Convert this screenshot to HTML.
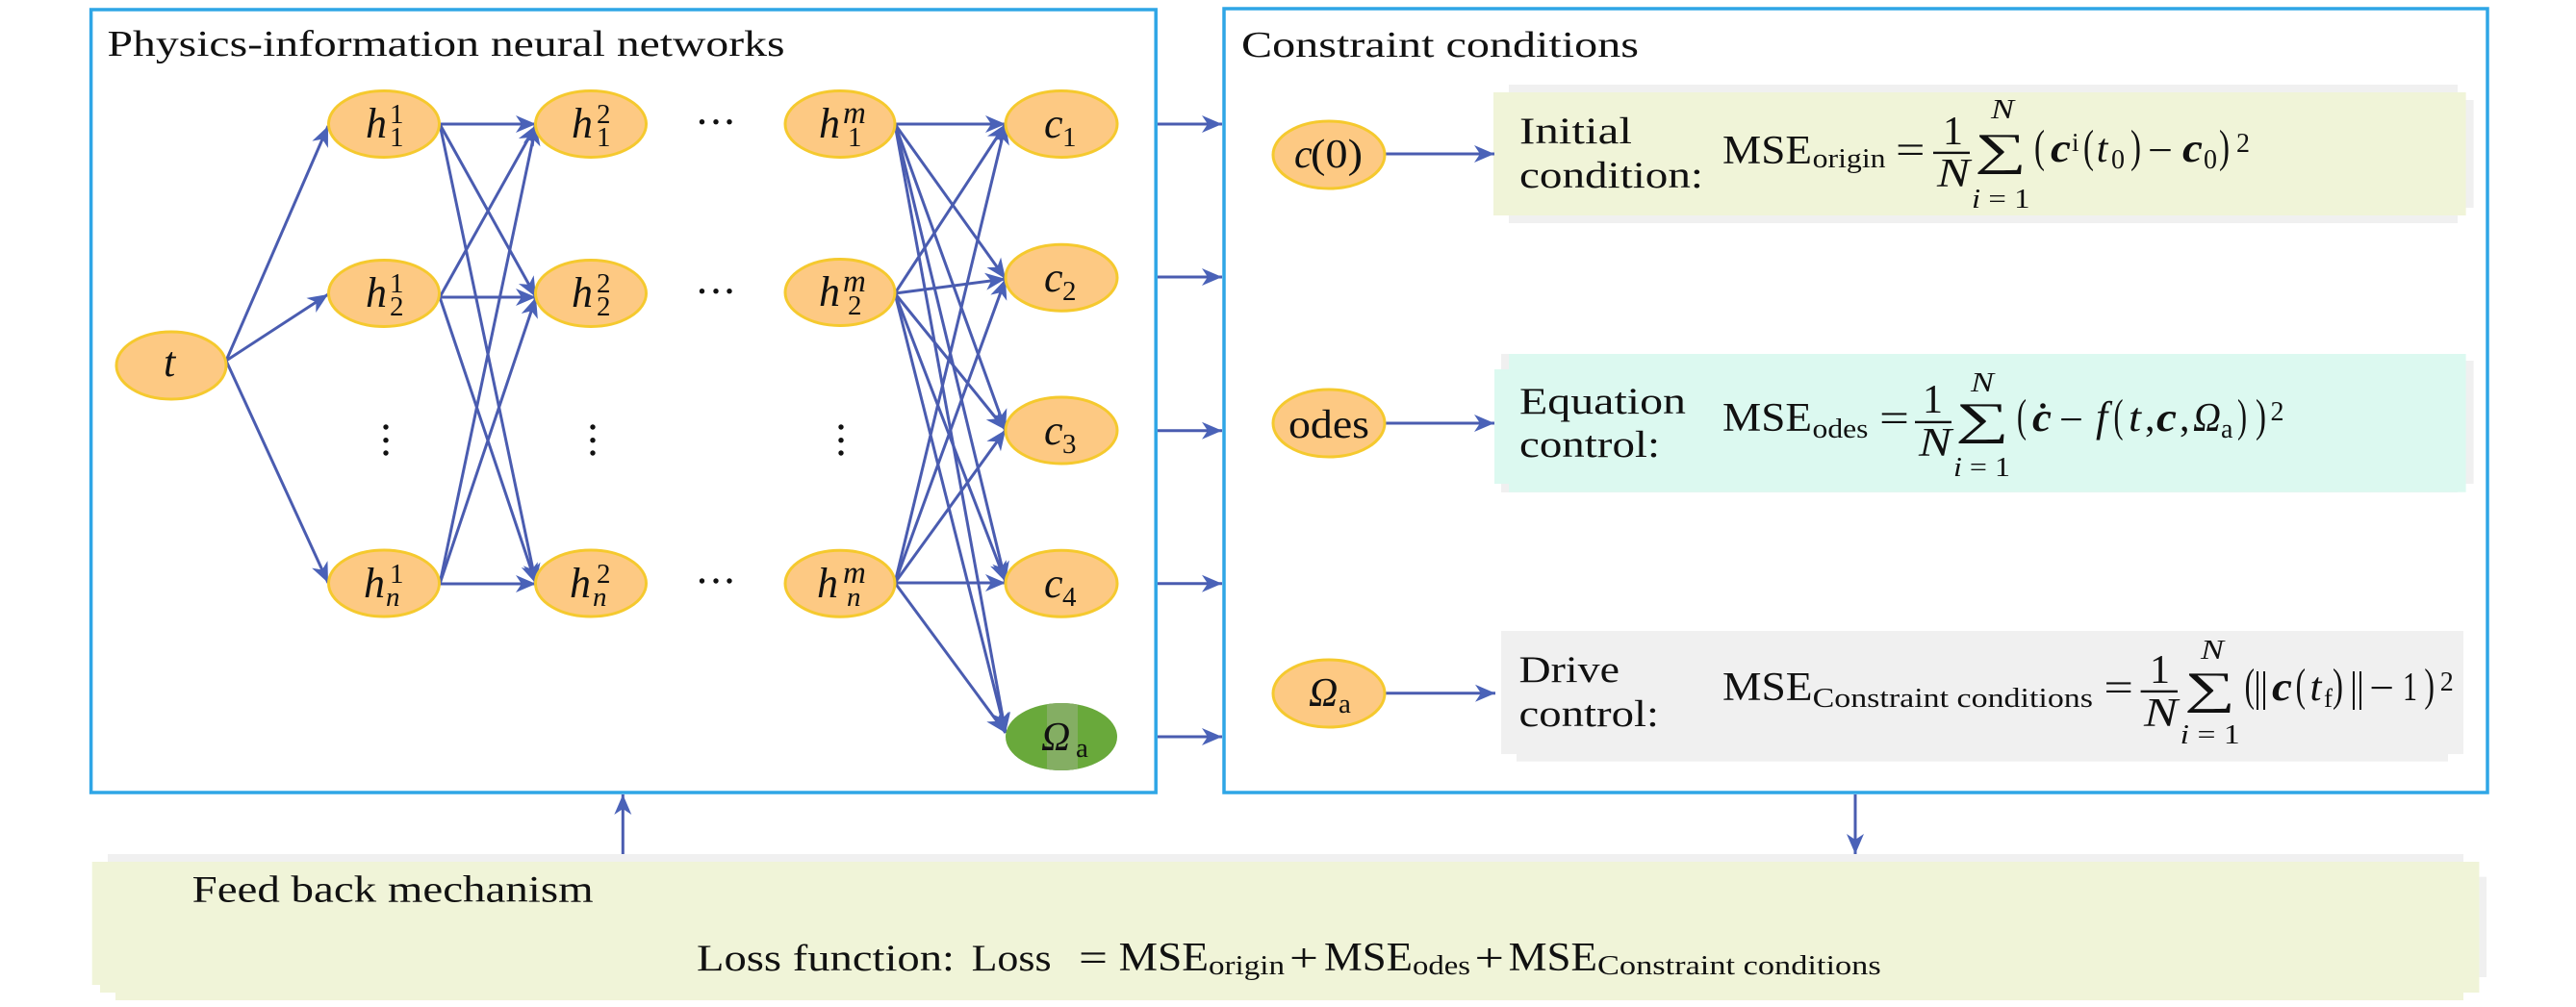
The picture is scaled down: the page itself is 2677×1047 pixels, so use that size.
<!DOCTYPE html>
<html>
<head>
<meta charset="utf-8">
<style>
html,body{margin:0;padding:0;background:#fff;}
svg{display:block;}
text{font-family:"Liberation Serif",serif;fill:#111;}
.i{font-style:italic;}
.b{font-style:italic;font-weight:bold;}
</style>
</head>
<body>
<svg width="2677" height="1047" viewBox="0 0 2677 1047" xmlns="http://www.w3.org/2000/svg">
<defs>
<marker id="a" markerUnits="userSpaceOnUse" markerWidth="26" markerHeight="24" refX="24" refY="12" orient="auto">
<path d="M3,3 L24,12 L3,21 L9,12 Z" fill="#4a62b8"/>
</marker>
</defs>
<rect width="2677" height="1047" fill="#fff"/>

<!-- panel backgrounds -->
<g fill="#f0f0f0">
<rect x="1568" y="88" width="986" height="144"/>
<rect x="2560" y="104" width="10.6" height="112"/>
<rect x="1560" y="368" width="994" height="144"/>
<rect x="2560" y="375" width="10.6" height="128"/>
<rect x="1560" y="656" width="1000" height="128"/>
<rect x="1576" y="660" width="968" height="131.7"/>
<rect x="112" y="888" width="2448" height="10"/>
<rect x="2570" y="911.7" width="14" height="104.3"/>
</g>
<rect x="1552" y="96" width="1010.6" height="128" fill="#f0f4d8"/>
<g fill="#dcf9f0">
<rect x="1568" y="368" width="994.6" height="143.7"/>
<rect x="1553" y="384" width="20" height="119"/>
</g>
<path d="M95.7,896 H2576.4 V1032 H2560 V1040 H120 V1032 H104 V1024 H95.7 Z" fill="#f0f4d8"/>

<!-- frames -->
<rect x="94.6" y="10" width="1106.6" height="814" fill="none" stroke="#2fa6e6" stroke-width="3.5"/>
<rect x="1272" y="9" width="1313" height="815" fill="none" stroke="#2fa6e6" stroke-width="3.5"/>

<!-- connectors -->
<g stroke="#4a5cb0" stroke-width="3" fill="none" marker-end="url(#a)">
<line x1="235" y1="375" x2="341" y2="131"/>
<line x1="235" y1="375" x2="341" y2="306"/>
<line x1="235" y1="375" x2="341" y2="606"/>

<line x1="457" y1="129" x2="557" y2="129"/>
<line x1="457" y1="129" x2="557" y2="309"/>
<line x1="457" y1="129" x2="557" y2="607"/>
<line x1="457" y1="309" x2="557" y2="130"/>
<line x1="457" y1="309" x2="557" y2="309"/>
<line x1="457" y1="309" x2="557" y2="607"/>
<line x1="457" y1="607" x2="557" y2="130"/>
<line x1="457" y1="607" x2="557" y2="309"/>
<line x1="457" y1="607" x2="557" y2="607"/>

<line x1="930" y1="129" x2="1045" y2="129"/>
<line x1="930" y1="129" x2="1045" y2="290"/>
<line x1="930" y1="129" x2="1045" y2="447"/>
<line x1="930" y1="129" x2="1045" y2="605"/>
<line x1="930" y1="129" x2="1045" y2="762"/>
<line x1="930" y1="305" x2="1045" y2="129"/>
<line x1="930" y1="305" x2="1045" y2="290"/>
<line x1="930" y1="305" x2="1045" y2="447"/>
<line x1="930" y1="305" x2="1045" y2="605"/>
<line x1="930" y1="305" x2="1045" y2="762"/>
<line x1="930" y1="606" x2="1045" y2="129"/>
<line x1="930" y1="606" x2="1045" y2="290"/>
<line x1="930" y1="606" x2="1045" y2="447"/>
<line x1="930" y1="606" x2="1045" y2="606"/>
<line x1="930" y1="606" x2="1045" y2="762"/>

<line x1="1203" y1="129" x2="1270" y2="129"/>
<line x1="1203" y1="288" x2="1270" y2="288"/>
<line x1="1203" y1="447.7" x2="1270" y2="447.7"/>
<line x1="1203" y1="606.7" x2="1270" y2="606.7"/>
<line x1="1203" y1="766" x2="1270" y2="766"/>

<line x1="1439" y1="160" x2="1553" y2="160"/>
<line x1="1439" y1="440" x2="1553" y2="440"/>
<line x1="1440" y1="720.7" x2="1554" y2="720.7"/>

<line x1="647.3" y1="888" x2="647.3" y2="826"/>
<line x1="1928" y1="826" x2="1928" y2="888"/>
</g>

<!-- nodes -->
<g fill="#fdc983" stroke="#f5c92e" stroke-width="3">
<ellipse cx="178" cy="380" rx="57" ry="35"/>
<ellipse cx="399" cy="129" rx="57.5" ry="34.5"/>
<ellipse cx="399" cy="305" rx="57.5" ry="34.5"/>
<ellipse cx="399" cy="606.5" rx="57.5" ry="34.5"/>
<ellipse cx="614" cy="129" rx="57.5" ry="34.5"/>
<ellipse cx="614" cy="305" rx="57.5" ry="34.5"/>
<ellipse cx="614" cy="606.5" rx="57.5" ry="34.5"/>
<ellipse cx="873" cy="129" rx="57" ry="34.5"/>
<ellipse cx="873" cy="304" rx="57" ry="34.5"/>
<ellipse cx="873" cy="606.7" rx="57" ry="34.5"/>
<ellipse cx="1103" cy="129" rx="58" ry="34.5"/>
<ellipse cx="1103" cy="288.7" rx="58" ry="34.5"/>
<ellipse cx="1103" cy="447.5" rx="58" ry="34.5"/>
<ellipse cx="1103" cy="606.7" rx="58" ry="34.5"/>
<ellipse cx="1381" cy="161" rx="58" ry="35"/>
<ellipse cx="1381" cy="440" rx="58" ry="35"/>
<ellipse cx="1381" cy="721" rx="58" ry="35"/>
</g>
<ellipse cx="1103" cy="766" rx="58" ry="35" fill="#69a93b"/>
<rect x="1088" y="731" width="32" height="70" fill="#84ae63" clip-path="ellipse(58px 35px at 15px 35px)"/>

<!-- ellipsis dots -->
<g fill="#111">
<circle cx="729.5" cy="126.7" r="2.7"/><circle cx="744" cy="126.7" r="2.7"/><circle cx="758" cy="126.7" r="2.7"/>
<circle cx="729.5" cy="302.7" r="2.7"/><circle cx="744" cy="302.7" r="2.7"/><circle cx="758" cy="302.7" r="2.7"/>
<circle cx="729.5" cy="604" r="2.7"/><circle cx="744" cy="604" r="2.7"/><circle cx="758" cy="604" r="2.7"/>
<circle cx="401" cy="444" r="2.7"/><circle cx="401" cy="457.7" r="2.7"/><circle cx="401" cy="471" r="2.7"/>
<circle cx="616" cy="444" r="2.7"/><circle cx="616" cy="457.7" r="2.7"/><circle cx="616" cy="471" r="2.7"/>
<circle cx="874" cy="444" r="2.7"/><circle cx="874" cy="457.7" r="2.7"/><circle cx="874" cy="471" r="2.7"/>
</g>

<!-- titles -->
<text x="111.5" y="58" font-size="38" textLength="704" lengthAdjust="spacingAndGlyphs">Physics-information neural networks</text>
<text x="1290" y="59" font-size="38" textLength="413" lengthAdjust="spacingAndGlyphs">Constraint conditions</text>

<!-- node labels -->
<g font-size="44">
<text class="i" x="170" y="391">t</text>

<text class="i" x="380" y="143">h</text><text x="405" y="128" font-size="29">1</text><text x="405" y="152" font-size="29">1</text>
<text class="i" x="380" y="319">h</text><text x="405" y="304" font-size="29">1</text><text x="405" y="328" font-size="29">2</text>
<text class="i" x="378" y="621">h</text><text x="405" y="606" font-size="29">1</text><text class="i" x="401" y="630" font-size="29">n</text>

<text class="i" x="594" y="143">h</text><text x="620" y="128" font-size="29">2</text><text x="620" y="152" font-size="29">1</text>
<text class="i" x="594" y="319">h</text><text x="620" y="304" font-size="29">2</text><text x="620" y="328" font-size="29">2</text>
<text class="i" x="592" y="621">h</text><text x="620" y="606" font-size="29">2</text><text class="i" x="616" y="630" font-size="29">n</text>

<text class="i" x="851" y="143">h</text><text class="i" x="876" y="128" font-size="33">m</text><text x="881" y="152" font-size="29">1</text>
<text class="i" x="851" y="318">h</text><text class="i" x="876" y="303" font-size="33">m</text><text x="881" y="327" font-size="29">2</text>
<text class="i" x="849" y="621">h</text><text class="i" x="876" y="606" font-size="33">m</text><text class="i" x="880" y="630" font-size="29">n</text>

<text class="i" x="1085" y="143">c</text><text x="1104" y="152" font-size="29">1</text>
<text class="i" x="1085" y="303">c</text><text x="1104" y="312" font-size="29">2</text>
<text class="i" x="1085" y="462">c</text><text x="1104" y="471" font-size="29">3</text>
<text class="i" x="1085" y="621">c</text><text x="1104" y="630" font-size="29">4</text>
<text class="i" x="1082" y="780" font-size="42">Ω</text><text x="1118" y="787" font-size="29">a</text>

<text class="i" x="1345" y="174" font-size="42">c</text><text x="1362" y="174" font-size="42" textLength="54" lengthAdjust="spacingAndGlyphs">(0)</text>
<text x="1339" y="455" font-size="42" textLength="84" lengthAdjust="spacingAndGlyphs">odes</text>
<text class="i" x="1360" y="734" font-size="42">Ω</text><text x="1391" y="741" font-size="29">a</text>
</g>

<!-- box text -->
<g font-size="39">
<text x="1579" y="149" textLength="117" lengthAdjust="spacingAndGlyphs">Initial</text>
<text x="1579" y="195" textLength="191" lengthAdjust="spacingAndGlyphs">condition:</text>
<text x="1579" y="430" textLength="173" lengthAdjust="spacingAndGlyphs">Equation</text>
<text x="1579" y="475" textLength="146" lengthAdjust="spacingAndGlyphs">control:</text>
<text x="1578.5" y="709" textLength="104.5" lengthAdjust="spacingAndGlyphs">Drive</text>
<text x="1578.5" y="755" textLength="145.5" lengthAdjust="spacingAndGlyphs">control:</text>
</g>

<g font-size="42">
<text x="1790" y="170" textLength="93" lengthAdjust="spacingAndGlyphs">MSE</text>
<text x="1883.6" y="174" font-size="29" textLength="76" lengthAdjust="spacingAndGlyphs">origin</text>
<text x="1970" y="170" textLength="30.5" lengthAdjust="spacingAndGlyphs">=</text>
<text x="2019" y="150">1</text>
<rect x="2009" y="157.7" width="38" height="2.4" fill="#111"/>
<text class="i" x="2013" y="194" textLength="34" lengthAdjust="spacingAndGlyphs">N</text>
<text x="2052" y="171" font-size="47" textLength="54" lengthAdjust="spacingAndGlyphs">∑</text>
<text class="i" x="2069" y="123" font-size="29" textLength="24" lengthAdjust="spacingAndGlyphs">N</text>
<text x="2049" y="216" font-size="29" textLength="60.5" lengthAdjust="spacingAndGlyphs"><tspan class="i">i</tspan> = 1</text>
<text x="2114" y="168" font-size="48" textLength="11" lengthAdjust="spacingAndGlyphs">(</text>
<text class="b" x="2131" y="168" textLength="21" lengthAdjust="spacingAndGlyphs">c</text>
<text x="2153" y="157" font-size="27">i</text>
<text x="2165" y="168" font-size="48" textLength="11" lengthAdjust="spacingAndGlyphs">(</text>
<text class="i" x="2178.7" y="168">t</text>
<text x="2194" y="175" font-size="28">0</text>
<text x="2214" y="168" font-size="48" textLength="11" lengthAdjust="spacingAndGlyphs">)</text>
<text x="2232" y="170" textLength="26" lengthAdjust="spacingAndGlyphs">−</text>
<text class="b" x="2268" y="168" textLength="21" lengthAdjust="spacingAndGlyphs">c</text>
<text x="2290" y="175" font-size="28">0</text>
<text x="2306" y="168" font-size="48" textLength="11" lengthAdjust="spacingAndGlyphs">)</text>
<text x="2324" y="158" font-size="28">2</text>

<!-- box 2 -->
<text x="1790" y="448" textLength="93" lengthAdjust="spacingAndGlyphs">MSE</text>
<text x="1883.5" y="455" font-size="29" textLength="58" lengthAdjust="spacingAndGlyphs">odes</text>
<text x="1953" y="449" textLength="31" lengthAdjust="spacingAndGlyphs">=</text>
<text x="1998" y="429">1</text>
<rect x="1990" y="437.7" width="38" height="2.4" fill="#111"/>
<text class="i" x="1994" y="474" textLength="34" lengthAdjust="spacingAndGlyphs">N</text>
<text x="2032" y="451" font-size="47" textLength="56" lengthAdjust="spacingAndGlyphs">∑</text>
<text class="i" x="2048" y="407" font-size="29" textLength="24" lengthAdjust="spacingAndGlyphs">N</text>
<text x="2030" y="495" font-size="29" textLength="59" lengthAdjust="spacingAndGlyphs"><tspan class="i">i</tspan> = 1</text>
<text x="2096" y="448" font-size="48" textLength="10" lengthAdjust="spacingAndGlyphs">(</text>
<text class="b" x="2112" y="448" textLength="20" lengthAdjust="spacingAndGlyphs">c</text>
<circle cx="2123" cy="422" r="2.8" fill="#111"/>
<text x="2140" y="450" textLength="25" lengthAdjust="spacingAndGlyphs">−</text>
<text class="i" x="2178" y="448" font-size="44">f</text>
<text x="2196.5" y="448" font-size="48" textLength="10" lengthAdjust="spacingAndGlyphs">(</text>
<text class="i" x="2212" y="448" textLength="13" lengthAdjust="spacingAndGlyphs">t</text>
<text x="2229" y="448">,</text>
<text class="b" x="2241" y="448" textLength="21" lengthAdjust="spacingAndGlyphs">c</text>
<text x="2265" y="448">,</text>
<text class="i" x="2279" y="448" textLength="29" lengthAdjust="spacingAndGlyphs">Ω</text>
<text x="2308" y="455" font-size="28">a</text>
<text x="2325" y="448" font-size="48" textLength="10" lengthAdjust="spacingAndGlyphs">)</text>
<text x="2344" y="448" font-size="48" textLength="11" lengthAdjust="spacingAndGlyphs">)</text>
<text x="2359.5" y="437" font-size="28">2</text>

<!-- box 3 -->
<text x="1790" y="728" textLength="93.6" lengthAdjust="spacingAndGlyphs">MSE</text>
<text x="1883.6" y="735" font-size="29" textLength="291.4" lengthAdjust="spacingAndGlyphs">Constraint conditions</text>
<text x="2186.4" y="729" textLength="30.6" lengthAdjust="spacingAndGlyphs">=</text>
<text x="2234" y="710">1</text>
<rect x="2224.6" y="717.7" width="38.4" height="2.4" fill="#111"/>
<text class="i" x="2228" y="755" textLength="35" lengthAdjust="spacingAndGlyphs">N</text>
<text x="2270" y="731" font-size="47" textLength="53" lengthAdjust="spacingAndGlyphs">∑</text>
<text class="i" x="2287" y="685" font-size="29" textLength="24" lengthAdjust="spacingAndGlyphs">N</text>
<text x="2265.7" y="773" font-size="29" textLength="62" lengthAdjust="spacingAndGlyphs"><tspan class="i">i</tspan> = 1</text>
<text x="2332.6" y="728" font-size="48" textLength="10.4" lengthAdjust="spacingAndGlyphs">(</text>
<rect x="2345" y="698" width="2" height="40" fill="#111"/><rect x="2352" y="698" width="2" height="40" fill="#111"/>
<text class="b" x="2361" y="728" textLength="21" lengthAdjust="spacingAndGlyphs">c</text>
<text x="2385.6" y="728" font-size="48" textLength="10.4" lengthAdjust="spacingAndGlyphs">(</text>
<text class="i" x="2400.5" y="728" textLength="12" lengthAdjust="spacingAndGlyphs">t</text>
<text x="2415" y="735" font-size="27">f</text>
<text x="2424" y="728" font-size="48" textLength="11" lengthAdjust="spacingAndGlyphs">)</text>
<rect x="2445" y="698" width="2" height="40" fill="#111"/><rect x="2452" y="698" width="2" height="40" fill="#111"/>
<text x="2462.4" y="729" textLength="25.6" lengthAdjust="spacingAndGlyphs">−</text>
<text x="2497" y="728" textLength="15" lengthAdjust="spacingAndGlyphs">1</text>
<text x="2519.4" y="728" font-size="48" textLength="10.6" lengthAdjust="spacingAndGlyphs">)</text>
<text x="2535.8" y="718" font-size="28">2</text>
</g>

<!-- feedback box -->
<text x="199.6" y="937.7" font-size="39" textLength="417" lengthAdjust="spacingAndGlyphs">Feed back mechanism</text>
<text x="724" y="1009" font-size="39" textLength="268" lengthAdjust="spacingAndGlyphs">Loss function:</text>
<text x="1009.6" y="1009" font-size="39" textLength="83" lengthAdjust="spacingAndGlyphs">Loss</text>
<g font-size="42">
<text x="1121" y="1010" textLength="30" lengthAdjust="spacingAndGlyphs">=</text>
<text x="1162.6" y="1009" textLength="93.4" lengthAdjust="spacingAndGlyphs">MSE</text>
<text x="1256" y="1013" font-size="29" textLength="79" lengthAdjust="spacingAndGlyphs">origin</text>
<text x="1340" y="1010" textLength="30" lengthAdjust="spacingAndGlyphs">+</text>
<text x="1376" y="1009" textLength="92" lengthAdjust="spacingAndGlyphs">MSE</text>
<text x="1468" y="1013" font-size="29" textLength="60" lengthAdjust="spacingAndGlyphs">odes</text>
<text x="1532.5" y="1010" textLength="30.5" lengthAdjust="spacingAndGlyphs">+</text>
<text x="1567.6" y="1009" textLength="92.4" lengthAdjust="spacingAndGlyphs">MSE</text>
<text x="1660" y="1013" font-size="29" textLength="294.7" lengthAdjust="spacingAndGlyphs">Constraint conditions</text>
</g>
</svg>
</body>
</html>
